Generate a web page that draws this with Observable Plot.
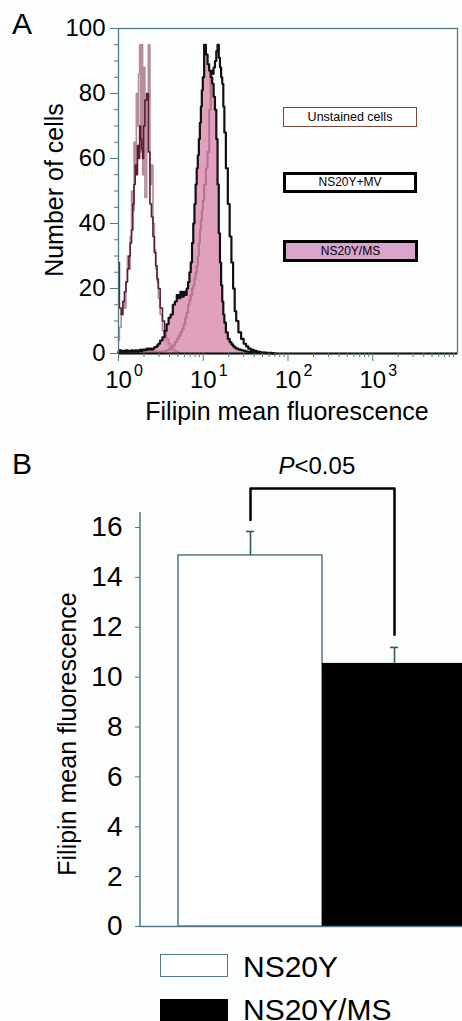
<!DOCTYPE html>
<html><head><meta charset="utf-8">
<script src="https://cdn.jsdelivr.net/npm/d3@7"></script>
<script src="https://cdn.jsdelivr.net/npm/@observablehq/plot@0.6"></script>
<style>
body{margin:0;background:#fcfefe;font-family:"Liberation Sans",Arial,Helvetica,sans-serif;}
#wrap{position:relative;width:462px;height:1021px;overflow:hidden;}
.abs{position:absolute;white-space:nowrap;color:#000;line-height:1;}
#panelA{position:absolute;left:0;top:0;}
#panelB{position:absolute;left:0;top:440px;}
.box{position:absolute;box-sizing:border-box;text-align:center;font-size:12.5px;color:#000;}
</style></head><body><div id="wrap">
<div id="panelA"></div>
<div id="panelB"></div>
</div>
<script>
// ---------- Panel A: flow cytometry histograms ----------
const fluor = [1.00,1.05,1.10,1.15,1.20,1.25,1.30,1.35,1.40,1.45,1.50,1.55,1.60,1.65,1.70,1.75,1.80,1.85,1.90,1.95,
  2.0,2.1,2.2,2.3,2.4,2.5,2.6,2.7,2.8,2.9,
  3.0,3.2,3.4,3.6,3.8,
  4.0,4.25,4.5,4.75,5.0,5.25,5.5,5.75,6.0,6.25,6.5,6.75,7.0,7.25,7.5,7.75,8.0,8.25,8.5,8.75,9.0,9.25,9.5,9.75,
  10,10.5,11,11.5,12,12.5,13,13.5,14,14.5,15,15.5,16,16.5,17,17.5,18,
  19,20,21,22,23,24,25,
  27,29,31,33,35,
  38,41,45,50,60,70];

const unstainedLight = [4,8,12,16,14,22,30,26,36,50,44,65,58,80,70,86,95,62,95,55,
  88,48,78,95,52,58,40,32,26,22,
  17,12,7,4,2.5,
  1.5,1,0.5,0.3,0,null,null,null,null,null,null,null,null,null,null,null,null,null,null,null,null,null,null,null,
  null,null,null,null,null,null,null,null,null,null,null,null,null,null,null,null,null,
  null,null,null,null,null,null,null,
  null,null,null,null,null,
  null,null,null,null,null,null];

const unstainedDark = [28,14,12,16,19,22,26,30,34,38,46,52,58,55,64,60,70,66,63,60,
  70,78,80,62,46,42,36,31,27,23,
  20,14,10,6.5,4.5,
  3,2,1.2,0.8,0.5,0.3,0,null,null,null,null,null,null,null,null,null,null,null,null,null,null,null,null,null,
  null,null,null,null,null,null,null,null,null,null,null,null,null,null,null,null,null,
  null,null,null,null,null,null,null,
  null,null,null,null,null,
  null,null,null,null,null,null];

const ns20yMV = [0.3,0.2,0.5,0.3,0.2,0.4,0.2,0.5,0.3,0.2,0.4,0.3,0.2,0.5,0.3,0.4,0.2,0.3,0.5,0.3,
  0.4,0.3,0.5,0.4,0.3,0.5,0.4,0.5,0.4,0.5,
  0.5,0.5,0.6,0.8,1,
  1.2,1.8,2.5,3.5,4.5,5.5,6.5,7.5,9,11,12.5,15,16.5,18,20,21,23,25,27,30,34,38,41,44,
  47,52,57,62,75,87,86,88,90,93,95,91,88,85,83,76,68,
  57,46,36,28,20,13,10,
  6.5,4.5,3,2.2,1.5,
  1.1,0.8,0.5,0.3,0.2,0];

const ns20yMS = [0.5,1,0.5,0.8,0.5,1,0.5,0.8,0.5,1,0.8,0.5,1,0.8,0.5,1,0.8,1.2,0.8,1,
  1.2,1,1.5,1.2,1.5,1.2,1.5,2,2,2.5,
  3,4,5,7,9,
  11,12,15,16,18,17,19,17.5,19,18,20,22,25,28,34,40,46,52,57,61,66,71,76,81,
  85,95,92,89,87,85,83,79,75,66,52,37,28,21,16,12,9.5,
  6.5,4.5,3.5,2.8,2.2,1.8,1.5,
  1.2,1,0.8,0.6,0.5,
  0.5,0.3,0.3,0.2,0.1,0];

const yTicksA = [0,20,40,60,80,100];
const yMinorA = [5,10,15,25,30,35,45,50,55,65,70,75,85,90,95];
const majorTicksA = [1,10,100,1000];
const minorTicksA = [2,3,4,5,6,7,8,9,20,30,40,50,60,70,80,90,200,300,400,500,600,700,800,900,2000,3000,4000,5000,6000,7000,8000,9000];

const legendA = ["Unstained cells","NS20Y+MV","NS20Y/MS"];

// ---------- Panel B: bar chart ----------
const groups = ["NS20Y","NS20Y/MS"];
const means = [14.88, 10.55];
const sems = [0.96, 0.64];
const yTicksB = [0,2,4,6,8,10,12,14,16];
const yAxisTopB = 16.6;
const bracketGroups = ["NS20Y","NS20Y","NS20Y/MS","NS20Y/MS"];
const bracketValues = [16.3,17.56,17.56,11.7];
const pValueY = 18.45;

// ---------- styles ----------
const FONT = '"Liberation Sans", Arial, Helvetica, sans-serif';
const teal = "#4f7b82";
const pink = "#da8cae";
const barFill = {"NS20Y":"#ffffff","NS20Y/MS":"#000000"};

const hist = fluor.map((v,i)=>({v, ul:unstainedLight[i], ud:unstainedDark[i], mv:ns20yMV[i], ms:ns20yMS[i]}));

const plotA = Plot.plot({
  width:462, height:440, marginLeft:118, marginRight:5, marginTop:28, marginBottom:87,
  style:{fontFamily:FONT, background:"transparent", color:"#000", overflow:"visible"},
  x:{type:"log", domain:[1,1e4], label:null},
  y:{domain:[0,100], label:null},
  marks:[
    Plot.line(hist, {filter:d=>d.ul!=null, x:"v", y:"ul", curve:"step", stroke:"#b58c9c", strokeWidth:1.6}),
    Plot.line(hist, {filter:d=>d.ud!=null, x:"v", y:"ud", curve:"step", stroke:"#5a1c30", strokeWidth:1.6}),
    Plot.line(hist, {x:"v", y:"mv", curve:"step", stroke:"#111", strokeWidth:2.2}),
    Plot.areaY(hist, {x:"v", y:"ms", curve:"step", fill:pink, fillOpacity:0.82}),
    Plot.line(hist, {x:"v", y:"ms", curve:"step", stroke:"#111", strokeWidth:2.2}),
    Plot.frame({stroke:teal, strokeWidth:1.3}),
    Plot.ruleY([0], {stroke:"#111", strokeWidth:2}),
    Plot.axisY(yTicksA, {tickSize:8, tickPadding:5, fontSize:24, color:"#000", stroke:teal, label:null}),
    Plot.axisY(yMinorA, {tickSize:4, tickFormat:()=>"", stroke:teal, label:null}),
    Plot.axisX(minorTicksA, {tickSize:4, tickFormat:()=>"", stroke:teal, label:null}),
    Plot.axisX(majorTicksA, {tickSize:8, tickFormat:()=>"", stroke:teal, label:null}),
    Plot.text(majorTicksA, {x:d=>d, text:()=>"10", frameAnchor:"bottom", dy:27, fontSize:24, lineAnchor:"middle"}),
    Plot.text(majorTicksA, {x:d=>d, text:d=>String(Math.round(Math.log10(d))), frameAnchor:"bottom", dy:17, dx:20, fontSize:16, lineAnchor:"middle"})
  ]
});
document.getElementById("panelA").appendChild(plotA);

const barData = groups.map((g,i)=>({g, m:means[i], e:sems[i]}));
const bracket = bracketGroups.map((g,i)=>({g, y:bracketValues[i]}));

const plotB = Plot.plot({
  width:462, height:500, marginLeft:140, marginRight:0, marginTop:10, marginBottom:14,
  style:{fontFamily:FONT, background:"transparent", color:"#000", overflow:"visible"},
  x:{type:"band", domain:groups, range:[178,466], padding:0, axis:null, label:null},
  y:{domain:[0,16], range:[486,87], label:null},
  marks:[
    Plot.barY(barData, {x:"g", y:"m", fill:d=>barFill[d.g], stroke:d=>d.g==="NS20Y"?teal:"none", strokeWidth:1.5, inset:0}),
    Plot.ruleX(barData, {x:"g", y1:"m", y2:d=>d.m+d.e, stroke:"#2f5a60", strokeWidth:1.6}),
    Plot.tickY(barData, {x:"g", y:d=>d.m+d.e, insetLeft:68, insetRight:68, stroke:"#2f5a60", strokeWidth:1.6}),
    Plot.ruleY([0], {stroke:teal, strokeWidth:1.5}),
    (index, scales, values, dims) => {
      const l = document.createElementNS("http://www.w3.org/2000/svg","line");
      l.setAttribute("x1", dims.marginLeft); l.setAttribute("x2", dims.marginLeft);
      l.setAttribute("y1", scales.y(0)); l.setAttribute("y2", scales.y(yAxisTopB));
      l.setAttribute("stroke", teal); l.setAttribute("stroke-width", 1.5);
      return l;
    },
    Plot.axisY(yTicksB, {tickSize:5, tickPadding:13, fontSize:28, color:"#000", stroke:teal, label:null}),
    Plot.line(bracket, {x:"g", y:"y", stroke:"#000", strokeWidth:2.5}),
    Plot.text(["P"], {x:()=>"NS20Y", y:()=>pValueY, text:d=>d, dx:44, textAnchor:"end", fontSize:24, fontStyle:"italic", lineAnchor:"middle"}),
    Plot.text(["<0.05"], {x:()=>"NS20Y", y:()=>pValueY, text:d=>d, dx:44, textAnchor:"start", fontSize:24, lineAnchor:"middle"})
  ]
});
document.getElementById("panelB").appendChild(plotB);

// ---------- Text & legends around the plots ----------
const wrap = document.getElementById("wrap");
function addDiv(html, css, cls="abs"){
  const d = document.createElement("div");
  d.className = cls; d.innerHTML = html; d.style.cssText = css; wrap.appendChild(d); return d;
}
addDiv("A", "left:12px;top:9px;font-size:30px;");
addDiv("B", "left:12px;top:449px;font-size:30px;");
addDiv("Number of cells", "left:54px;top:190px;font-size:25px;transform:translate(-50%,-50%) rotate(-90deg);");
addDiv("Filipin mean fluorescence", "left:287px;top:399px;font-size:25px;transform:translateX(-50%);");
addDiv("Filipin mean fluorescence", "left:67px;top:734px;font-size:25px;transform:translate(-50%,-50%) rotate(-90deg);");

// in-plot legend of panel A
addDiv(legendA[0], "left:283px;top:107px;width:134px;height:20px;line-height:18px;border:1px solid #7a4a3a;background:#fff;", "box");
addDiv(legendA[1], "left:283px;top:172px;width:134px;height:21px;line-height:15px;border:3px solid #000;background:#fff;font-size:12px;", "box");
addDiv(legendA[2], "left:283px;top:240px;width:135px;height:22px;line-height:16px;border:3px solid #000;background:#d7a4cc;font-size:12px;", "box");

// legend of panel B
addDiv("", "left:160px;top:954px;width:68px;height:23px;border:1.5px solid "+teal+";background:#fff;box-sizing:border-box;");
addDiv(groups[0], "left:243px;top:952px;font-size:30px;");
addDiv("", "left:160px;top:999px;width:68px;height:26px;background:#000;");
addDiv(groups[1], "left:243px;top:995px;font-size:30px;");
</script>
</body></html>
